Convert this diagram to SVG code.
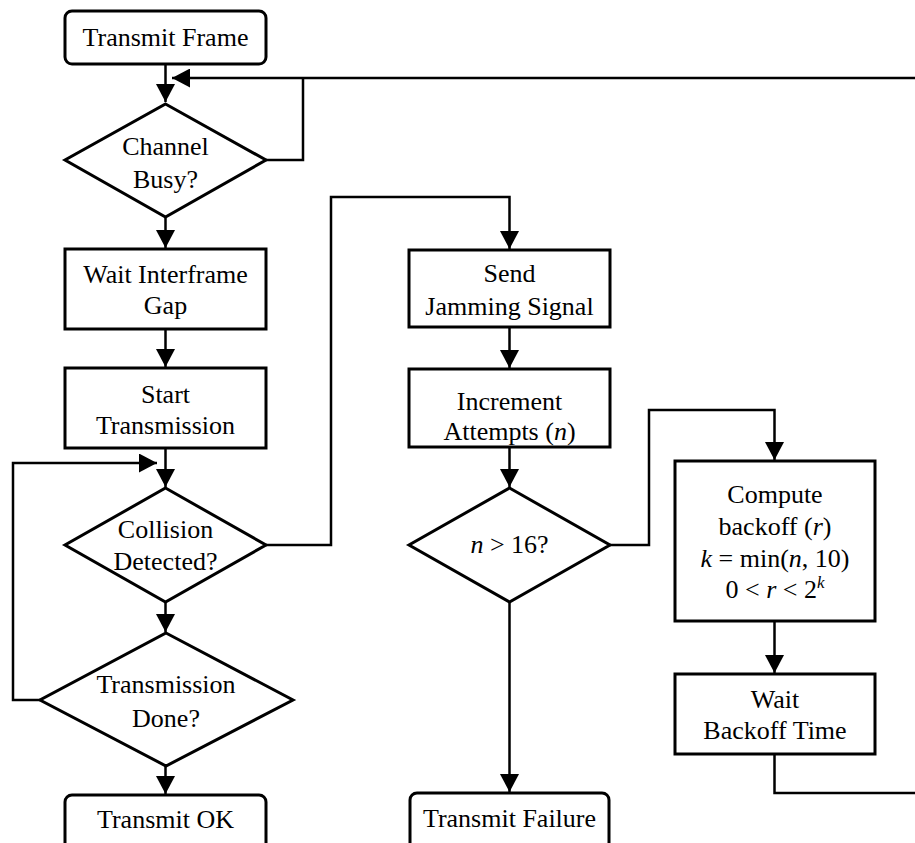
<svg xmlns="http://www.w3.org/2000/svg" width="915" height="843" viewBox="0 0 915 843">
<style>
.box{fill:#fff;stroke:#000;stroke-width:3;stroke-linejoin:miter}
.term{fill:#fff;stroke:#000;stroke-width:3}
.dia{fill:#fff;stroke:#000;stroke-width:3;stroke-linejoin:miter}
.con{fill:none;stroke:#000;stroke-width:2.5}
text{font-family:"Liberation Serif","Times New Roman",serif;font-size:26px;fill:#000;text-anchor:middle}
.i{font-style:italic}
</style>
<defs>
<marker id="ah" markerUnits="userSpaceOnUse" markerWidth="18" markerHeight="19" viewBox="0 0 18 19" refX="18" refY="9.5" orient="auto">
<path d="M0,0 L18,9.5 L0,19 z" fill="#000"/>
</marker>
</defs>
<rect width="915" height="843" fill="#fff"/>
<g id="connectors">
<line class="con" x1="165.5" y1="64" x2="165.5" y2="102" marker-end="url(#ah)"/>
<polyline class="con" points="266,160 303,160 303,78"/>
<line class="con" x1="915" y1="78" x2="172" y2="78" marker-end="url(#ah)"/>
<line class="con" x1="165.5" y1="217" x2="165.5" y2="248" marker-end="url(#ah)"/>
<line class="con" x1="165.5" y1="329" x2="165.5" y2="367" marker-end="url(#ah)"/>
<line class="con" x1="165.5" y1="448" x2="165.5" y2="487" marker-end="url(#ah)"/>
<polyline class="con" points="40,700 13,700 13,463 157,463" marker-end="url(#ah)"/>
<line class="con" x1="165.5" y1="602" x2="165.5" y2="632" marker-end="url(#ah)"/>
<line class="con" x1="165.5" y1="766" x2="165.5" y2="794" marker-end="url(#ah)"/>
<polyline class="con" points="266,545 331,545 331,197 509.5,197 509.5,249" marker-end="url(#ah)"/>
<line class="con" x1="509.5" y1="327" x2="509.5" y2="368" marker-end="url(#ah)"/>
<line class="con" x1="509.5" y1="447" x2="509.5" y2="487" marker-end="url(#ah)"/>
<line class="con" x1="509.5" y1="602" x2="509.5" y2="792" marker-end="url(#ah)"/>
<polyline class="con" points="610,545 649,545 649,410 774.5,410 774.5,460" marker-end="url(#ah)"/>
<line class="con" x1="774.5" y1="621" x2="774.5" y2="673" marker-end="url(#ah)"/>
<polyline class="con" points="774.5,754 774.5,793 915,793"/>
</g>
<g id="transmit-frame">
<rect class="term" x="65" y="11" width="201" height="53" rx="7"/>
<text x="165.5" y="46">Transmit Frame</text>
</g>
<g id="channel-busy">
<polygon class="dia" points="165.5,104 266,160 165.5,217 65,160"/>
<text x="165.5" y="155">Channel</text>
<text x="165.5" y="188">Busy?</text>
</g>
<g id="wait-ifg">
<rect class="box" x="65" y="249" width="201" height="80"/>
<text x="165.5" y="283">Wait Interframe</text>
<text x="165.5" y="314">Gap</text>
</g>
<g id="start-tx">
<rect class="box" x="65" y="368" width="201" height="80"/>
<text x="165.5" y="403">Start</text>
<text x="165.5" y="434">Transmission</text>
</g>
<g id="collision">
<polygon class="dia" points="165.5,488 266,545 165.5,602 65,545"/>
<text x="165.5" y="538">Collision</text>
<text x="165.5" y="570">Detected?</text>
</g>
<g id="tx-done">
<polygon class="dia" points="166,633 293,700 166,766 40,700"/>
<text x="166" y="693">Transmission</text>
<text x="166" y="727">Done?</text>
</g>
<g id="transmit-ok">
<rect class="term" x="65" y="795" width="201" height="60" rx="7"/>
<text x="165.5" y="828">Transmit OK</text>
</g>
<g id="send-jam">
<rect class="box" x="409" y="250" width="201" height="77"/>
<text x="509.5" y="282">Send</text>
<text x="509.5" y="315">Jamming Signal</text>
</g>
<g id="increment">
<rect class="box" x="409" y="369" width="201" height="78"/>
<text x="509.5" y="410">Increment</text>
<text x="509.5" y="440">Attempts (<tspan class="i">n</tspan>)</text>
</g>
<g id="n-gt-16">
<polygon class="dia" points="509.5,488 610,545 509.5,602 409,545"/>
<text x="509.5" y="553"><tspan class="i">n</tspan> &gt; 16?</text>
</g>
<g id="transmit-failure">
<rect class="term" x="410" y="793" width="199" height="62" rx="7"/>
<text x="509.5" y="827">Transmit Failure</text>
</g>
<g id="compute-backoff">
<rect class="box" x="675" y="461" width="200" height="160"/>
<text x="775" y="503">Compute</text>
<text x="775" y="535">backoff (<tspan class="i">r</tspan>)</text>
<text x="775" y="567"><tspan class="i">k</tspan> = min(<tspan class="i">n</tspan>, 10)</text>
<text x="775" y="598">0 &lt; <tspan class="i">r</tspan> &lt; 2<tspan class="i" font-size="17" dy="-10">k</tspan></text>
</g>
<g id="wait-backoff">
<rect class="box" x="675" y="674" width="200" height="80"/>
<text x="775" y="708">Wait</text>
<text x="775" y="739">Backoff Time</text>
</g>
</svg>
